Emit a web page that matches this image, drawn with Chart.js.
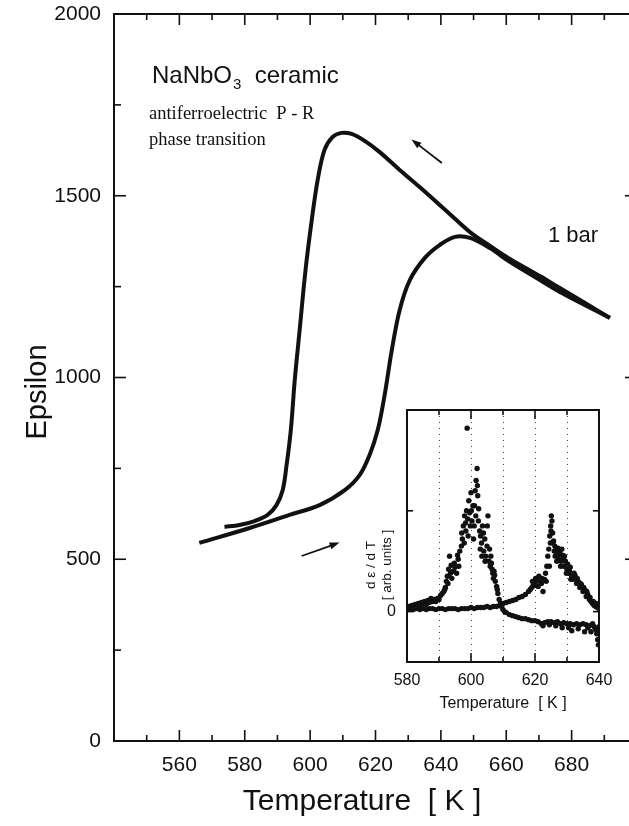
<!DOCTYPE html>
<html><head><meta charset="utf-8">
<script src="https://cdn.jsdelivr.net/npm/chart.js@4.4.1/dist/chart.umd.min.js"></script>
<style>
html,body{margin:0;padding:0;background:#fff;overflow:hidden;width:629px;height:826px;}
#wrap{position:relative;width:629px;height:826px;overflow:hidden;}
#main{position:absolute;left:0;top:0;}
#inset{position:absolute;left:340px;top:395px;}
</style></head><body>
<div id="wrap">
<canvas id="main" width="660" height="826"></canvas>
<canvas id="inset" width="290" height="320"></canvas>
</div>
<script>
// ---------- main chart data ----------
const heatT   = [566.1, 581.5, 593.7, 602.9, 610.6, 615.2, 618.2, 620.7, 622.8, 625.0, 627.4, 630.5, 635.1, 639.7, 644.3, 648.9, 655.0, 661.1, 670.3, 676.4, 684.1, 691.7];
const heatEps = [545, 586, 622, 649, 690, 732, 787, 856, 952, 1076, 1186, 1268, 1329, 1365, 1387, 1384, 1356, 1318, 1268, 1235, 1199, 1164];
const coolT   = [691.7, 684.1, 676.4, 670.3, 661.1, 655.0, 648.9, 642.7, 633.5, 627.4, 621.3, 616.7, 612.7, 609.6, 606.9, 604.4, 602.3, 600.5, 598.6, 596.8, 595.3, 594.1, 592.8, 591.6, 589.7, 587.0, 583.0, 578.4, 573.8];
const coolEps = [1164, 1205, 1246, 1279, 1326, 1362, 1400, 1450, 1524, 1571, 1620, 1651, 1670, 1673, 1662, 1626, 1543, 1433, 1296, 1131, 993, 856, 759, 690, 649, 622, 605, 594, 589];
const mainXTickLabels = [560, 580, 600, 620, 640, 660, 680];
const mainYTickLabels = [0, 500, 1000, 1500, 2000];
const mainXTickMarks = [550, 560, 570, 580, 590, 600, 610, 620, 630, 640, 650, 660, 670, 680, 690];
const mainYTickMarks = [250, 500, 750, 1000, 1250, 1500, 1750];
const arrowsTE = [ {from:[640.3, 1590], to:[631.0, 1655]}, {from:[597.4, 509], to:[609.0, 546]} ];

// ---------- inset data (d eps / dT, arb. units) ----------
const insetHeatT = [580,581,582,583,584,585,586,587,588,589,590,591,592,593,594,595,596,597,598,599,600,601,602,603,604,605,606,607,608,609,610,611,612,613,614,615,616,617,618,618.5,619,619.5,620,620.5,621,621.5,622,622.5,623,623.3,623.7,624,624.3,624.6,624.9,625.1,625.3,625.5,625.8,626,626.3,626.6,627,627.4,627.8,628.2,628.6,629,629.5,630,630.5,631,631.5,632,632.5,633,633.5,634,634.5,635,635.5,636,636.5,637,637.5,638,638.5,639,639.5,640,
  619.2,620.2,621.2,622.2,623.5,624.5,624.8,625.0,625.6,626.2,626.8,627.2,627.6,628.0,628.4,628.8,629.2,629.8,630.2,630.8,631.2,632.2,633.2,634.2,635.2,636.2,637.2,638.2,639.2];
const insetHeatD = [0.02,0.03,0.02,0.03,0.02,0.03,0.02,0.03,0.03,0.02,0.03,0.03,0.02,0.03,0.03,0.03,0.02,0.03,0.03,0.03,0.04,0.03,0.04,0.04,0.04,0.05,0.04,0.05,0.05,0.06,0.08,0.09,0.10,0.11,0.12,0.14,0.15,0.17,0.20,0.22,0.24,0.27,0.26,0.30,0.25,0.30,0.28,0.20,0.32,0.38,0.45,0.55,0.62,0.75,0.85,0.95,0.90,0.78,0.70,0.60,0.55,0.62,0.58,0.52,0.60,0.50,0.56,0.45,0.50,0.42,0.38,0.44,0.35,0.32,0.36,0.28,0.30,0.24,0.27,0.20,0.22,0.15,0.17,0.12,0.10,0.08,0.06,0.05,0.04,0.03,
  0.30,0.33,0.35,0.33,0.30,0.45,0.68,0.80,0.68,0.65,0.50,0.63,0.56,0.45,0.62,0.52,0.55,0.38,0.47,0.40,0.32,0.38,0.33,0.28,0.24,0.20,0.14,0.10,0.08];
const insetCoolT = [580,580.5,581,581.5,582,582.5,583,583.5,584,584.5,585,585.5,586,586.5,587,587.5,588,588.5,589,589.5,590,590.5,591,591.5,592,592.3,592.6,593,593.3,593.6,594,594.5,595,595.5,596,596.5,597,597.3,597.6,598,598.3,598.6,598.8,599,599.3,599.6,600,600.3,600.6,601,601.3,601.6,601.9,602.1,602.4,602.7,603,603.3,603.6,604,604.3,604.6,605,605.3,605.6,606,606.4,606.8,607.2,607.6,608,608.4,608.8,609.2,609.6,610,610.5,611,612,613,614,615,616,617,618,619,620,621,622,622.5,623,624,624.5,625,626,626.5,627,628,628.5,629,630,630.5,631,631.5,632,633,633.5,634,635,635.5,636,636.5,637,637.5,638,638.5,639,639.3,639.6,639.8,640,
  594.8,595.8,596.2,597.1,597.9,598.4,599.1,599.8,600.1,600.8,601.1,601.5,602.0,602.3,602.9,603.4,603.9,604.4,605.1,605.8,606.2,606.6,607.0,607.4,608.2,592.8,593.8,591.8];
const insetCoolD = [0.03,0.05,0.03,0.06,0.04,0.07,0.05,0.08,0.06,0.09,0.08,0.10,0.07,0.11,0.09,0.13,0.10,0.12,0.10,0.13,0.12,0.16,0.18,0.20,0.24,0.30,0.35,0.42,0.55,0.38,0.33,0.40,0.44,0.38,0.52,0.60,0.65,0.72,0.85,0.95,0.88,1.00,1.82,0.92,1.10,0.98,1.18,0.90,1.05,0.85,1.20,1.30,1.42,1.15,1.02,0.80,0.75,0.68,0.85,0.60,0.72,0.55,0.65,0.95,0.50,0.45,0.48,0.38,0.40,0.30,0.25,0.18,0.12,0.08,0.05,0.02,0.00,-0.01,-0.03,-0.04,-0.05,-0.06,-0.07,-0.07,-0.08,-0.09,-0.09,-0.10,-0.12,-0.14,-0.11,-0.10,-0.13,-0.10,-0.11,-0.14,-0.10,-0.12,-0.16,-0.11,-0.12,-0.16,-0.12,-0.19,-0.13,-0.12,-0.17,-0.13,-0.12,-0.20,-0.13,-0.16,-0.14,-0.20,-0.12,-0.15,-0.18,-0.22,-0.28,-0.33,-0.15,
  0.48,0.56,0.45,0.78,0.68,0.80,0.75,0.85,1.00,0.72,1.05,0.95,1.25,0.90,0.62,0.55,0.78,0.50,0.85,0.62,0.55,0.42,0.33,0.36,0.22,0.28,0.46,0.22];
const insetXTickLabels = [580, 600, 620, 640];
const insetXTickMarks = [590, 600, 610, 620, 630];
const insetYTickMarks = [0, 1];

// ---------- helpers ----------
const SANS = '"Liberation Sans", Arial, sans-serif';
const SERIF = '"Liberation Serif", "Times New Roman", serif';
const INK = '#111';
const pts = (xs, ys) => xs.map((x, i) => ({x, y: ys[i]}));
function seg(ctx, x1, y1, x2, y2){ ctx.beginPath(); ctx.moveTo(x1, y1); ctx.lineTo(x2, y2); ctx.stroke(); }
function noPad(s){ s.paddingTop = 0; s.paddingBottom = 0; s.paddingLeft = 0; s.paddingRight = 0; }

const mainDeco = {
  id: 'mainDeco',
  afterDraw(chart){
    const {ctx, chartArea: a, scales: {x, y}} = chart;
    ctx.save();
    ctx.strokeStyle = INK; ctx.fillStyle = INK;
    ctx.lineWidth = 2;
    ctx.strokeRect(a.left, a.top, a.right - a.left, a.bottom - a.top);
    ctx.lineWidth = 1.6;
    mainXTickMarks.forEach(v => {
      const p = x.getPixelForValue(v); const L = (v % 20 === 0) ? 11 : 6;
      seg(ctx, p, a.bottom, p, a.bottom - L); seg(ctx, p, a.top, p, a.top + L);
    });
    mainYTickMarks.forEach(v => {
      const p = y.getPixelForValue(v); const L = (v % 500 === 0) ? 12 : 7;
      seg(ctx, a.left, p, a.left + L, p); seg(ctx, a.right, p, a.right - L, p);
    });
    // arrows
    arrowsTE.forEach(ar => {
      const x1 = x.getPixelForValue(ar.from[0]), y1 = y.getPixelForValue(ar.from[1]);
      const x2 = x.getPixelForValue(ar.to[0]), y2 = y.getPixelForValue(ar.to[1]);
      const ang = Math.atan2(y2 - y1, x2 - x1);
      ctx.lineWidth = 1.8;
      seg(ctx, x1, y1, x2 - 6 * Math.cos(ang), y2 - 6 * Math.sin(ang));
      ctx.beginPath();
      ctx.moveTo(x2, y2);
      ctx.lineTo(x2 - 10 * Math.cos(ang) + 3.5 * Math.sin(ang), y2 - 10 * Math.sin(ang) - 3.5 * Math.cos(ang));
      ctx.lineTo(x2 - 10 * Math.cos(ang) - 3.5 * Math.sin(ang), y2 - 10 * Math.sin(ang) + 3.5 * Math.cos(ang));
      ctx.closePath(); ctx.fill();
    });
    // texts
    ctx.textBaseline = 'alphabetic'; ctx.textAlign = 'left';
    ctx.font = '24px ' + SANS;
    let tx = 152; const by = 83;
    ctx.fillText('NaNbO', tx, by); tx += ctx.measureText('NaNbO').width;
    ctx.font = '15px ' + SANS; ctx.fillText('3', tx + 1, by + 6); tx += ctx.measureText('3').width + 1;
    ctx.font = '24px ' + SANS; ctx.fillText('  ceramic', tx, by);
    ctx.font = '18.5px ' + SERIF;
    ctx.fillText('antiferroelectric  P - R', 149, 119);
    ctx.fillText('phase transition', 149, 145);
    ctx.font = '22px ' + SANS;
    ctx.fillText('1 bar', 548, 242);
    // axis titles
    ctx.textAlign = 'center'; ctx.textBaseline = 'middle';
    ctx.font = '30px ' + SANS;
    ctx.fillText('Temperature  [ K ]', 362, 802);
    ctx.font = '29px ' + SANS;
    ctx.save(); ctx.translate(38, 392); ctx.rotate(-Math.PI / 2);
    ctx.fillText('Epsilon', 0, 0); ctx.restore();
    ctx.restore();
  }
};

new Chart(document.getElementById('main'), {
  type: 'scatter',
  data: { datasets: [
    { label: 'heating', data: pts(heatT, heatEps), showLine: true, borderColor: INK, borderWidth: 4, pointRadius: 0, tension: 0.35, fill: false },
    { label: 'cooling', data: pts(coolT, coolEps), showLine: true, borderColor: INK, borderWidth: 4, pointRadius: 0, tension: 0.35, fill: false }
  ]},
  options: {
    responsive: false, animation: false, devicePixelRatio: 1,
    layout: { padding: { top: 14, right: 23, left: 0, bottom: 0 } },
    plugins: { legend: { display: false }, tooltip: { enabled: false } },
    scales: {
      x: { type: 'linear', min: 540, max: 700,
        afterFit(s){ s.height = 85; noPad(s); },
        afterBuildTicks(s){ s.ticks = [540].concat(mainXTickLabels, [700]).map(v => ({value: v})); },
        ticks: { callback: v => mainXTickLabels.includes(v) ? String(v) : '', font: { family: SANS, size: 21 }, color: INK, padding: 12, maxRotation: 0, autoSkip: false },
        grid: { display: false, drawTicks: false }, border: { display: false } },
      y: { type: 'linear', min: 0, max: 2000,
        afterFit(s){ s.width = 114; noPad(s); },
        afterBuildTicks(s){ s.ticks = mainYTickLabels.map(v => ({value: v})); },
        ticks: { callback: v => String(v), font: { family: SANS, size: 21 }, color: INK, padding: 13 },
        grid: { display: false, drawTicks: false }, border: { display: false } }
    }
  },
  plugins: [mainDeco]
});

const insetDeco = {
  id: 'insetDeco',
  beforeDraw(chart){
    const {ctx, chartArea: a} = chart;
    ctx.save(); ctx.fillStyle = '#fff';
    ctx.fillRect(a.left, a.top, a.right - a.left, a.bottom - a.top); ctx.restore();
  },
  afterDraw(chart){
    const {ctx, chartArea: a, scales: {x, y}} = chart;
    ctx.save();
    ctx.strokeStyle = INK; ctx.fillStyle = INK;
    ctx.lineWidth = 2;
    ctx.strokeRect(a.left, a.top, a.right - a.left, a.bottom - a.top);
    ctx.lineWidth = 1.6;
    insetXTickMarks.forEach(v => {
      const p = x.getPixelForValue(v); const L = (v % 20 === 0) ? 9 : 5;
      seg(ctx, p, a.bottom, p, a.bottom - L); seg(ctx, p, a.top, p, a.top + L);
    });
    insetYTickMarks.forEach(v => {
      const p = y.getPixelForValue(v);
      seg(ctx, a.left, p, a.left + 6, p); seg(ctx, a.right, p, a.right - 6, p);
    });
    ctx.textAlign = 'center'; ctx.textBaseline = 'middle';
    ctx.font = '16px ' + SANS;
    ctx.fillText('Temperature  [ K ]', (a.left + a.right) / 2, 309);
    ctx.font = '13.5px ' + SANS;
    ctx.save(); ctx.translate(31, 170); ctx.rotate(-Math.PI / 2);
    ctx.fillText('d \u03b5 / d T', 0, 0);
    ctx.fillText('[ arb. units ]', 0, 16);
    ctx.restore();
    ctx.restore();
  }
};

new Chart(document.getElementById('inset'), {
  type: 'scatter',
  data: { datasets: [
    { label: 'cooling', data: pts(insetCoolT, insetCoolD), pointRadius: 2.7, pointBackgroundColor: INK, pointBorderWidth: 0, showLine: false },
    { label: 'heating', data: pts(insetHeatT, insetHeatD), pointRadius: 2.7, pointBackgroundColor: INK, pointBorderWidth: 0, showLine: false }
  ]},
  options: {
    responsive: false, animation: false, devicePixelRatio: 1,
    layout: { padding: { top: 15, right: 31, left: 0, bottom: 0 } },
    plugins: { legend: { display: false }, tooltip: { enabled: false } },
    scales: {
      x: { type: 'linear', min: 580, max: 640,
        afterFit(s){ s.height = 53; noPad(s); },
        afterBuildTicks(s){ s.ticks = [580, 590, 600, 610, 620, 630, 640].map(v => ({value: v})); },
        ticks: { callback: v => insetXTickLabels.includes(v) ? String(v) : '', font: { family: SANS, size: 16 }, color: INK, padding: 9, maxRotation: 0, autoSkip: false },
        grid: { display: true, drawTicks: false, color: '#444', lineWidth: 1 }, border: { display: false, dash: [1, 5] } },
      y: { type: 'linear', min: -0.5, max: 2,
        afterFit(s){ s.width = 67; noPad(s); },
        afterBuildTicks(s){ s.ticks = [0].map(v => ({value: v})); },
        ticks: { callback: v => String(v), font: { family: SANS, size: 16 }, color: INK, padding: 11 },
        grid: { display: false, drawTicks: false }, border: { display: false } }
    }
  },
  plugins: [insetDeco]
});
</script>
</body></html>
